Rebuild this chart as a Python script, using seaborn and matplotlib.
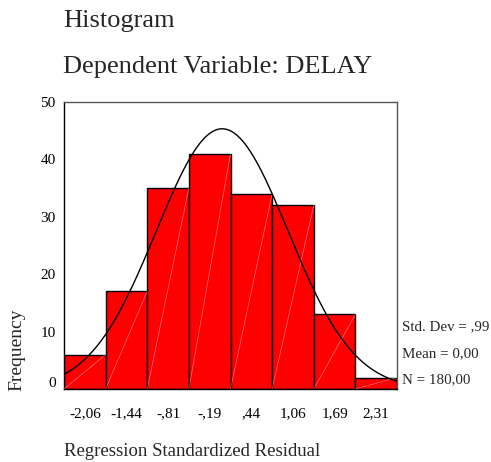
import numpy as np
import pandas as pd
import matplotlib
matplotlib.use("Agg")
import matplotlib.pyplot as plt
import matplotlib.transforms as mtransforms
import seaborn as sns

# ---- data ----
bin_centers = [-2.0625, -1.4375, -0.8125, -0.1875, 0.4375, 1.0625, 1.6875, 2.3125]
tick_labels = ["-2,06", "-1,44", "-,81", "-,19", ",44", "1,06", "1,69", "2,31"]
counts = [6, 17, 35, 41, 34, 32, 13, 2]
bin_width = 0.625
mean_val = 0.0
std_val = 0.99
n_val = 180
y_ticks = [0, 10, 20, 30, 40, 50]

sns.set_style("white")
plt.rcParams["font.family"] = ["Liberation Serif", "DejaVu Serif"]

fig = plt.figure(figsize=(4.91, 4.62), dpi=100)
ax = fig.add_axes([64 / 491, 1 - 389 / 462, (397 - 64) / 491, (389 - 102) / 462])

edges = [bin_centers[0] - bin_width / 2] + [c + bin_width / 2 for c in bin_centers]
df = pd.DataFrame({"x": bin_centers, "w": counts})
sns.histplot(data=df, x="x", weights="w", bins=edges, color="#ff0000",
             edgecolor="black", linewidth=1.0, alpha=1.0, ax=ax)

# faint diagonal artifacts inside each bar (SPSS rendering)
for c, h in zip(bin_centers, counts):
    ax.plot([c - bin_width / 2, c + bin_width / 2], [0, h], color="white",
            lw=0.5, alpha=0.45, zorder=3)

# normal curve
xs = np.linspace(edges[0], edges[-1], 400)
ys = n_val * bin_width / (std_val * np.sqrt(2 * np.pi)) * np.exp(-0.5 * ((xs - mean_val) / std_val) ** 2)
sns.lineplot(x=xs, y=ys, color="black", lw=1.0, ax=ax, zorder=4)

ax.set_xlim(edges[0], edges[-1])
ax.set_ylim(0, 50)
ax.set_xticks(bin_centers)
ax.set_xticklabels(tick_labels)
ax.set_yticks(y_ticks)
ax.set_yticklabels([str(v) for v in y_ticks])
ax.tick_params(axis="both", direction="out", length=4, width=1, colors="black",
               labelsize=11)
ax.tick_params(axis="x", pad=9)
ax.tick_params(axis="y", pad=2)
ax.set_xlabel("")
ax.set_ylabel("")

# shift the "0" label up as in the reference
lbl0 = ax.get_yticklabels()[0]
lbl0.set_transform(lbl0.get_transform() + mtransforms.ScaledTranslation(0, 7 / 100, fig.dpi_scale_trans))

for side in ["left", "bottom"]:
    ax.spines[side].set_color("black")
    ax.spines[side].set_linewidth(1.0)
for side in ["top", "right"]:
    ax.spines[side].set_color("#555555")
    ax.spines[side].set_linewidth(1.0)
    ax.spines[side].set_visible(True)

# titles & labels
fig.text(63 / 491, 1 - 27 / 462, "Histogram", fontsize=19.0, ha="left", va="baseline")
fig.text(63 / 491, 1 - 73 / 462, "Dependent Variable: DELAY", fontsize=19.0, ha="left", va="baseline")
fig.text(64 / 491, 1 - 452 / 462, "Regression Standardized Residual", fontsize=13.5, ha="left", va="center")
fig.text(17 / 491, 1 - 350 / 462, "Frequency", fontsize=14, rotation=90, ha="center", va="center")

fig.text(402 / 491, 1 - 327 / 462, "Std. Dev = ,99", fontsize=10.8, ha="left", va="center")
fig.text(402 / 491, 1 - 354 / 462, "Mean = 0,00", fontsize=10.8, ha="left", va="center")
fig.text(402 / 491, 1 - 380 / 462, "N = 180,00", fontsize=10.8, ha="left", va="center")

fig.savefig("out.png", dpi=100)
